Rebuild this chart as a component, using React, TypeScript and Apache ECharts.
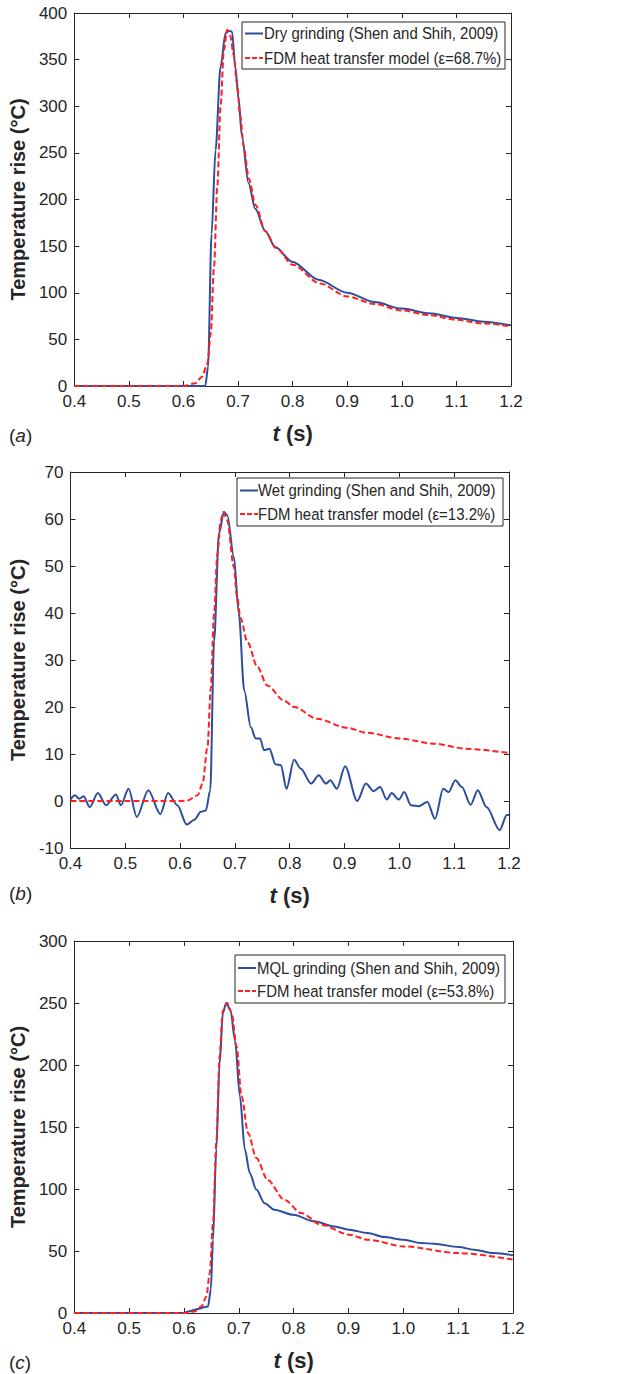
import React, { useEffect, useRef } from "react";
import * as echarts from "echarts";

// ---------- data (t in s, temperature rise in °C) ----------
const dryMeasured: [number, number][] = [
  [0.4, 0], [0.5, 0], [0.6, 0], [0.64, 0], [0.645, 20], [0.6515, 163], [0.6588, 253], [0.6679, 342],
  [0.677, 378], [0.683, 381], [0.689, 380], [0.695, 342], [0.701, 308], [0.707, 268], [0.719, 218],
  [0.7315, 190], [0.75, 166], [0.768, 149], [0.8, 133], [0.847, 114], [0.9, 100], [0.95, 90],
  [1.0, 83], [1.05, 78], [1.1, 73], [1.15, 69], [1.2, 65],
];
const dryModel: [number, number][] = [
  [0.4, 0], [0.5, 0], [0.6, 0], [0.622, 3], [0.634, 10], [0.644, 24], [0.65, 56], [0.656, 128],
  [0.662, 214], [0.668, 299], [0.674, 360], [0.68, 382], [0.686, 375], [0.692, 355], [0.698, 325],
  [0.704, 290], [0.71, 258], [0.72, 222], [0.732, 194], [0.75, 166], [0.77, 148], [0.8, 130],
  [0.85, 110], [0.9, 96], [0.95, 88], [1.0, 81], [1.05, 76], [1.1, 71], [1.15, 67], [1.2, 64],
];
const wetMeasured: [number, number][] = [
  [0.4, 0.3], [0.408, 1.2], [0.416, 0.5], [0.424, 1.0], [0.435, -1.3], [0.45, 1.7], [0.465, -0.9],
  [0.483, 1.4], [0.492, -0.9], [0.506, 2.6], [0.521, -3.4], [0.542, 2.3], [0.564, -2.8], [0.578, 1.7],
  [0.595, -0.9], [0.612, -5.0], [0.626, -4.0], [0.638, -2.3], [0.647, -2.0], [0.655, 2.3], [0.662, 34],
  [0.671, 57], [0.68, 61.5], [0.686, 60.8], [0.698, 52], [0.707, 40], [0.717, 23.5], [0.729, 15.7],
  [0.738, 13.3], [0.746, 13.3], [0.753, 10.8], [0.763, 11.1], [0.774, 7.8], [0.784, 7.6], [0.794, 2.6],
  [0.808, 8.8], [0.82, 6.9], [0.839, 3.7], [0.853, 5.5], [0.866, 3.7], [0.874, 4.4], [0.886, 2.6],
  [0.901, 7.4], [0.923, 0], [0.939, 3.7], [0.953, 2.1], [0.965, 3.0], [0.977, 0.3], [0.986, 1.7],
  [0.999, 0.3], [1.009, 1.9], [1.021, -0.9], [1.035, -1.1], [1.051, -0.2], [1.065, -3.8], [1.08, 2.6],
  [1.09, 1.9], [1.102, 4.4], [1.114, 3.0], [1.13, -0.8], [1.143, 2.3], [1.159, -1.3], [1.183, -6.2],
  [1.196, -3.0], [1.2, -3.0],
];
const wetModel: [number, number][] = [
  [0.4, 0], [0.5, 0], [0.6, 0], [0.613, 0.1], [0.632, 1.2], [0.641, 3.7], [0.65, 11.5], [0.656, 24],
  [0.662, 40], [0.668, 52.6], [0.674, 59.7], [0.679, 61.5], [0.686, 59.7], [0.698, 49.8], [0.704, 43.4],
  [0.71, 39], [0.723, 33.8], [0.741, 28.5], [0.759, 24.6], [0.789, 21.4], [0.808, 20], [0.85, 17.5],
  [0.903, 15.6], [0.941, 14.5], [1.0, 13.3], [1.062, 12.2], [1.123, 11.1], [1.2, 10.2],
];
const mqlMeasured: [number, number][] = [
  [0.4, 0], [0.5, 0], [0.6, 0], [0.608, 1.3], [0.626, 3.2], [0.638, 4.8], [0.644, 5.4], [0.649, 19],
  [0.653, 59], [0.659, 132], [0.665, 201], [0.671, 242], [0.677, 250], [0.685, 244], [0.693, 220],
  [0.702, 175], [0.711, 132], [0.72, 113], [0.732, 99.5], [0.747, 88.6], [0.765, 83.3], [0.799, 79.2],
  [0.838, 73.9], [0.874, 69.8], [0.901, 67.2], [0.935, 64.5], [0.965, 61.2], [1.001, 59.1],
  [1.032, 56.4], [1.056, 55.9], [1.101, 53.2], [1.129, 51], [1.165, 48.3], [1.2, 46.5],
];
const mqlModel: [number, number][] = [
  [0.4, 0], [0.5, 0], [0.6, 0], [0.62, 1.3], [0.632, 5.4], [0.641, 13.4], [0.647, 32], [0.653, 72.5],
  [0.659, 137], [0.665, 207], [0.671, 244], [0.679, 250], [0.687, 242], [0.696, 215], [0.705, 175],
  [0.717, 145], [0.732, 125], [0.753, 107], [0.783, 91.3], [0.814, 80.6], [0.85, 71.2], [0.902, 63.1],
  [0.935, 59.1], [1.001, 53.7], [1.101, 48.3], [1.2, 43],
];

const measuredNames = [
  "Dry grinding (Shen and Shih, 2009)",
  "Wet grinding (Shen and Shih, 2009)",
  "MQL grinding (Shen and Shih, 2009)",
];
const modelNames = [
  "FDM heat transfer model (ε=68.7%)",
  "FDM heat transfer model (ε=13.2%)",
  "FDM heat transfer model (ε=53.8%)",
];
const panelLabels = ["a", "b", "c"];
const yRanges: [number, number, number][] = [
  [0, 400, 50],
  [-10, 70, 10],
  [0, 300, 50],
];

// ---------- layout ----------
const grids = [
  { left: 71, top: 13, width: 440, height: 373 },
  { left: 69, top: 472, width: 440, height: 376 },
  { left: 72, top: 941, width: 441, height: 372 },
];
const legends = [
  { x: 242, y: 22, w: 263, h: 47, r1: 33.5, r2: 58, lx: 245, tx: 264 },
  { x: 237, y: 478, w: 266, h: 48, r1: 490.5, r2: 514, lx: 240, tx: 258 },
  { x: 235, y: 955, w: 270, h: 48, r1: 968, r2: 991, lx: 238, tx: 257 },
];
const panelLabelY = [435, 893, 1362];

const BLUE = "#2d4d9e";
const RED = "#ff2020";
const AX = "#262626";
const SANS = "'Liberation Sans', Arial, sans-serif";

function buildOption() {
  const xAxis: any[] = [];
  const yAxis: any[] = [];
  const series: any[] = [];
  const graphic: any[] = [];
  const measured = [dryMeasured, wetMeasured, mqlMeasured];
  const model = [dryModel, wetModel, mqlModel];

  grids.forEach((g, i) => {
    const tick = { inside: true, length: 5, lineStyle: { color: AX, width: 1 } };
    const line = { show: true, onZero: false, lineStyle: { color: AX, width: 1 } };
    xAxis.push({
      type: "value", gridIndex: i, min: 0.4, max: 1.2, interval: 0.1, position: "bottom",
      axisLine: line, axisTick: tick, splitLine: { show: false },
      axisLabel: { formatter: (v: number) => v.toFixed(1), fontFamily: SANS, fontSize: 17, color: AX, margin: 7 },
      name: "{i|t} {b|(s)}", nameLocation: "middle", nameGap: 36,
      nameTextStyle: {
        fontFamily: SANS, fontSize: 22, fontWeight: "bold", color: AX,
        rich: {
          i: { fontFamily: SANS, fontSize: 22, fontWeight: "bold", fontStyle: "italic", color: AX },
          b: { fontFamily: SANS, fontSize: 22, fontWeight: "bold", color: AX },
        },
      },
    });
    xAxis.push({
      type: "value", gridIndex: i, min: 0.4, max: 1.2, interval: 0.1, position: "top",
      axisLine: line, axisTick: tick, axisLabel: { show: false }, splitLine: { show: false },
    });
    const [mn, mx, it] = yRanges[i];
    yAxis.push({
      type: "value", gridIndex: i, min: mn, max: mx, interval: it, position: "left",
      axisLine: line, axisTick: tick, splitLine: { show: false },
      axisLabel: { fontFamily: SANS, fontSize: 17, color: AX, margin: 7 },
      name: "Temperature rise (°C)", nameLocation: "middle", nameGap: 42,
      nameTextStyle: { fontFamily: SANS, fontSize: 20, fontWeight: "bold", color: AX },
    });
    yAxis.push({
      type: "value", gridIndex: i, min: mn, max: mx, interval: it, position: "right",
      axisLine: line, axisTick: tick, axisLabel: { show: false }, splitLine: { show: false },
    });
    series.push({
      name: measuredNames[i], type: "line", xAxisIndex: 2 * i, yAxisIndex: 2 * i,
      data: measured[i], showSymbol: false, smooth: 0.3, smoothMonotone: "x",
      lineStyle: { color: BLUE, width: 2 }, itemStyle: { color: BLUE }, z: 2,
    });
    series.push({
      name: modelNames[i], type: "line", xAxisIndex: 2 * i, yAxisIndex: 2 * i,
      data: model[i], showSymbol: false, smooth: 0.3, smoothMonotone: "x",
      lineStyle: { color: RED, width: 2, type: [6, 3] }, itemStyle: { color: RED }, z: 3,
    });

    const L = legends[i];
    graphic.push({
      type: "rect", shape: { x: L.x, y: L.y, width: L.w, height: L.h },
      style: { fill: "#fff", stroke: AX, lineWidth: 1 }, z: 10,
    });
    graphic.push({
      type: "line", shape: { x1: L.lx, y1: L.r1, x2: L.lx + 18, y2: L.r1 },
      style: { stroke: BLUE, lineWidth: 2 }, z: 11,
    });
    graphic.push({
      type: "line", shape: { x1: L.lx, y1: L.r2, x2: L.lx + 18, y2: L.r2 },
      style: { stroke: RED, lineWidth: 2, lineDash: [5, 2] }, z: 11,
    });
    graphic.push({
      type: "text", x: L.tx, y: L.r1, z: 11, scaleX: 0.88,
      style: { text: measuredNames[i], fontFamily: SANS, fontSize: 17, fill: AX, verticalAlign: "middle" },
    });
    graphic.push({
      type: "text", x: L.tx, y: L.r2, z: 11, scaleX: 0.88,
      style: { text: modelNames[i], fontFamily: SANS, fontSize: 17, fill: AX, verticalAlign: "middle" },
    });
    graphic.push({
      type: "text", x: 9, y: panelLabelY[i], z: 11,
      style: {
        text: "(" + "{i|" + panelLabels[i] + "})", fontFamily: SANS, fontSize: 19, fill: AX,
        verticalAlign: "middle",
        rich: { i: { fontFamily: SANS, fontSize: 19, fontStyle: "italic", fill: AX } },
      },
    });
  });

  return {
    animation: false,
    backgroundColor: "#fff",
    grid: grids.map((g) => ({ ...g, containLabel: false })),
    xAxis, yAxis, series, graphic,
  };
}

export default function App() {
  const ref = useRef<HTMLDivElement>(null);
  useEffect(() => {
    if (!ref.current) return;
    const chart = echarts.init(ref.current, null, { renderer: "svg" });
    chart.setOption(buildOption() as any);
    return () => chart.dispose();
  }, []);
  return (
    <div
      ref={ref}
      style={{ position: "absolute", left: 0, top: 0, width: 623, height: 1374, background: "#fff" }}
    />
  );
}
